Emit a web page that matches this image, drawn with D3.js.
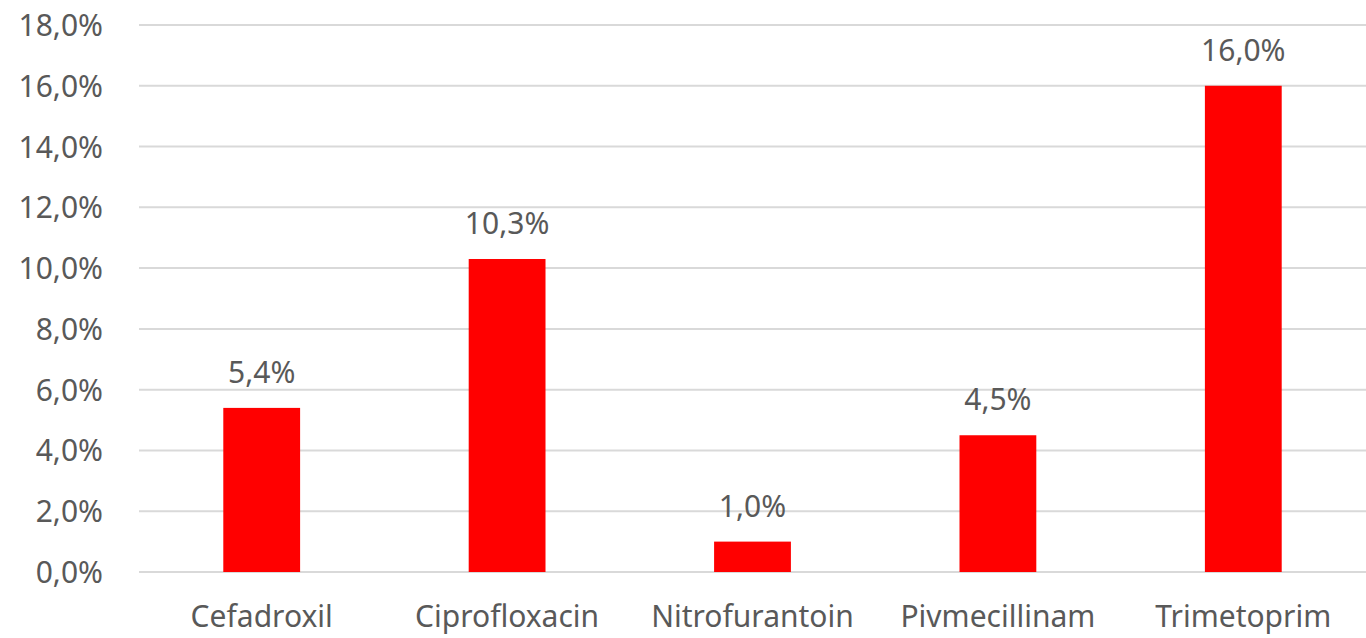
<!DOCTYPE html>
<html>
<head>
<meta charset="utf-8">
<script src="https://cdn.jsdelivr.net/npm/d3@7"></script>
<style>
  body { margin: 0; background: white; }
  svg { display: block; }
  svg text { font-family: "Noto Sans", "Open Sans", sans-serif; }
</style>
</head>
<body>
<div id="chart"></div>
<script>
// Data
var categories = ["Cefadroxil", "Ciprofloxacin", "Nitrofurantoin", "Pivmecillinam", "Trimetoprim"];
var values = [5.4, 10.3, 1.0, 4.5, 16.0];
var yTicks = [0, 2, 4, 6, 8, 10, 12, 14, 16, 18];

var svgW = 1366, svgH = 638;
var margin = {left: 139, right: 0, top: 25, bottom: 66};
var dataW = svgW - margin.left - margin.right;
var dataH = svgH - margin.top - margin.bottom;
var textColor = "#595959";
var fontSize = "30px";

// Format like "10,3%"
function fmt(v) {
  return v.toFixed(1).replace(".", ",") + "%";
}

var svg = d3.select("#chart")
            .append("svg")
              .attr("width", svgW)
              .attr("height", svgH);

var g = svg.append("g")
             .attr("transform", "translate(" + margin.left + "," + margin.top + ")");

var yScale = d3.scaleLinear()
                .domain([0, 18])
                .range([dataH, 0]);

var xScale = d3.scaleBand()
                .domain(categories)
                .range([0, dataW])
                .paddingInner(0.687)
                .paddingOuter(0.3435);

// Gridlines
g.selectAll(".grid")
  .data(yTicks)
  .enter()
  .append("line")
    .attr("x1", 0)
    .attr("x2", dataW)
    .attr("y1", function(d) { return yScale(d); })
    .attr("y2", function(d) { return yScale(d); })
    .attr("stroke", "#d9d9d9")
    .attr("stroke-width", 2);

// Y axis labels
var yAxis = d3.axisLeft(yScale)
              .tickValues(yTicks)
              .tickSize(0)
              .tickPadding(36)
              .tickFormat(fmt);
g.append("g")
   .call(yAxis)
   .call(function(a) { a.select(".domain").remove(); })
   .selectAll("text")
     .attr("fill", textColor)
     .style("font-size", fontSize)
     .attr("dy", "0.35em");

// Bars
g.selectAll(".bar")
  .data(values)
  .enter()
  .append("rect")
    .attr("x", function(d, i) { return xScale(categories[i]); })
    .attr("y", function(d) { return yScale(d); })
    .attr("width", xScale.bandwidth())
    .attr("height", function(d) { return dataH - yScale(d); })
    .attr("fill", "#ff0000");

// Data labels
g.selectAll(".label")
  .data(values)
  .enter()
  .append("text")
    .attr("x", function(d, i) { return xScale(categories[i]) + xScale.bandwidth() / 2; })
    .attr("y", function(d) { return yScale(d) - 25; })
    .attr("text-anchor", "middle")
    .attr("fill", textColor)
    .style("font-size", fontSize)
    .text(fmt);

// X axis labels
var xAxis = d3.axisBottom(xScale)
              .tickSize(0)
              .tickPadding(34);
g.append("g")
   .attr("transform", "translate(0," + dataH + ")")
   .call(xAxis)
   .call(function(a) { a.select(".domain").remove(); })
   .selectAll("text")
     .attr("fill", textColor)
     .style("font-size", fontSize);
</script>
</body>
</html>
